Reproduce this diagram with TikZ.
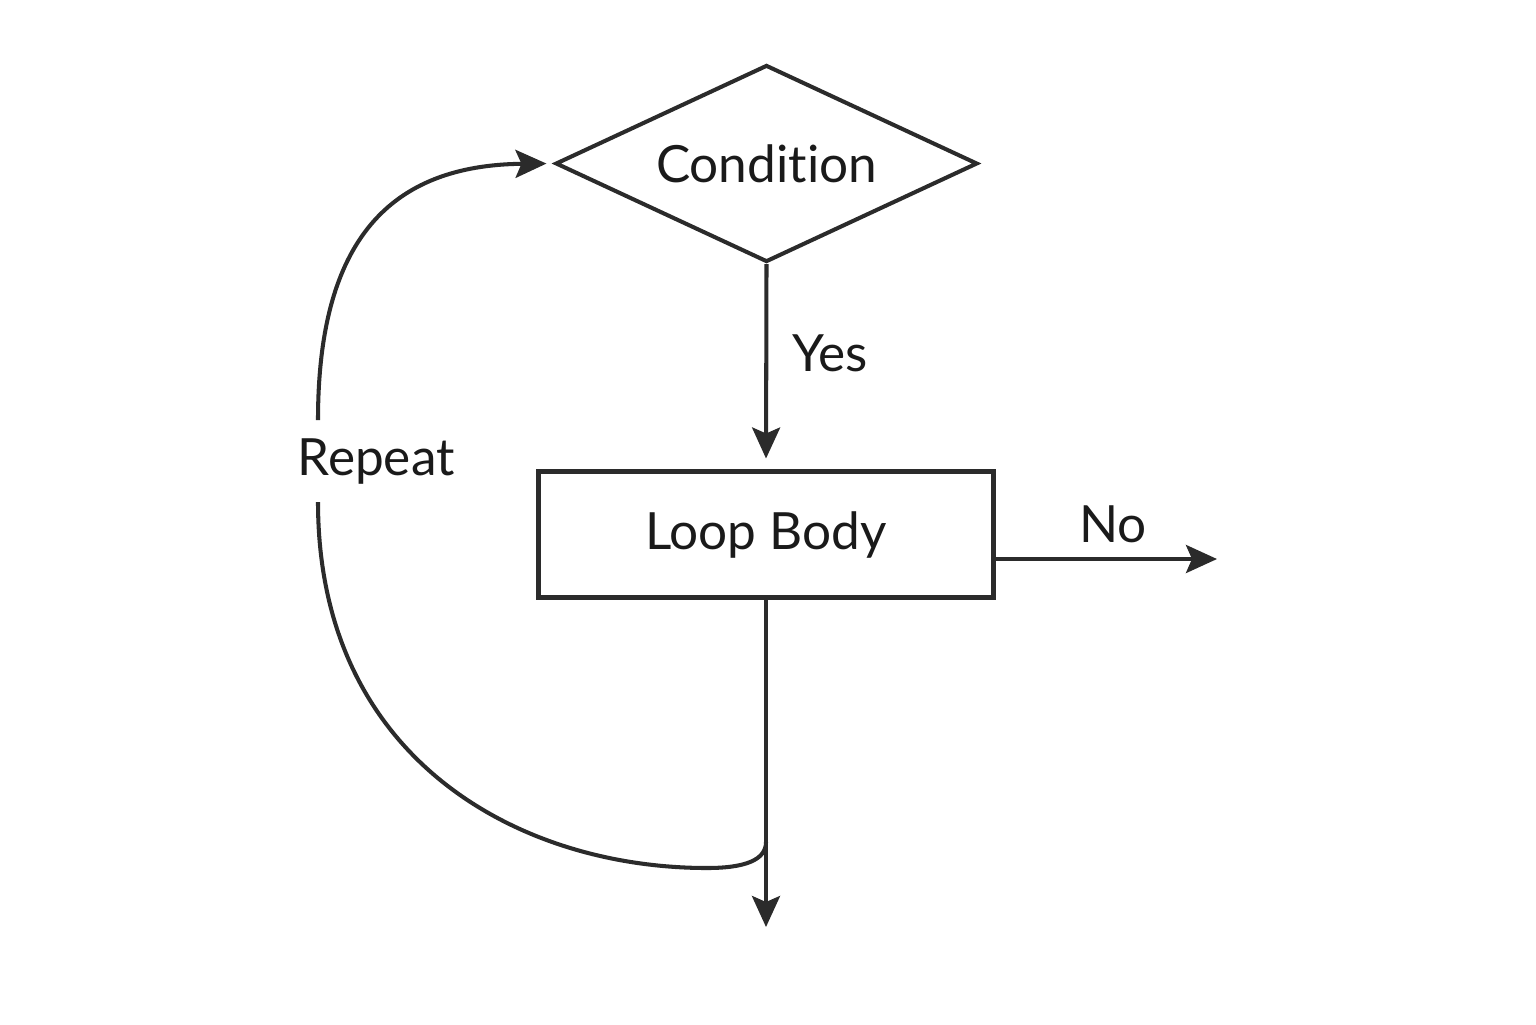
\documentclass[tikz,border=0pt]{standalone}
\usepackage{fontspec}
\setmainfont{Lato}[Ligatures=NoCommon]
\usetikzlibrary{shapes.geometric,arrows.meta}
\definecolor{ink}{HTML}{2B2B2B}
\definecolor{txt}{HTML}{1A1A1A}
\begin{document}
\begin{tikzpicture}[x=1cm,y=-1cm,
  cond/.style={diamond,draw=ink,line width=1.15pt,aspect=2.14,inner sep=0pt,
    minimum width=4.22cm,minimum height=1.97cm,font=\fontsize{14.6}{17}\selectfont,text=txt},
  box/.style={rectangle,draw=ink,line width=1.15pt,minimum width=4.55cm,minimum height=1.26cm,
    font=\fontsize{14.6}{17}\selectfont,text=txt},
  link/.style={draw=ink,line width=1.15pt},
  arr/.style={link,-{Stealth[length=3.1mm,width=2.8mm,inset=0.6mm]}},
  lab/.style={font=\fontsize{14.6}{17}\selectfont,text=txt,inner sep=1pt}]
  \useasboundingbox (0,0) rectangle (15.36,10.24);
  % the two blocks
  \node[cond] (test) at (7.665,1.635) {Condition};
  \node[box] (body) at (7.66,5.345) {Loop Body};
  % free ends and the turning points of the loop
  \coordinate (exitN) at (12.17,5.59);
  \coordinate (exitB) at (7.66,9.27);
  \coordinate (join) at (7.66,8.42);
  \coordinate (gapLo) at (3.18,5.02);
  \coordinate (gapHi) at (3.18,4.20);
  % connectors
  \draw[arr,shorten >=1.1mm] (test.south) -- (body.north);
  \node[lab] (yes) at (8.30,3.53) {Yes};
  \draw[arr] (body.east |- exitN) -- (exitN);
  \node[lab] (no) at (11.13,5.24) {No};
  \draw[arr] (body.south) -- (exitB);
  \draw[link] (join) .. controls (7.66,8.60) and (7.45,8.68) .. (7.07,8.68)
    .. controls (5.20,8.68) and (3.18,7.60) .. (gapLo);
  \node[lab] (rep) at (3.76,4.62) {Repeat};
  \draw[arr,shorten >=0.7mm] (gapHi) .. controls (3.18,2.40) and (3.90,1.65) .. (test.west);
\end{tikzpicture}
\end{document}
